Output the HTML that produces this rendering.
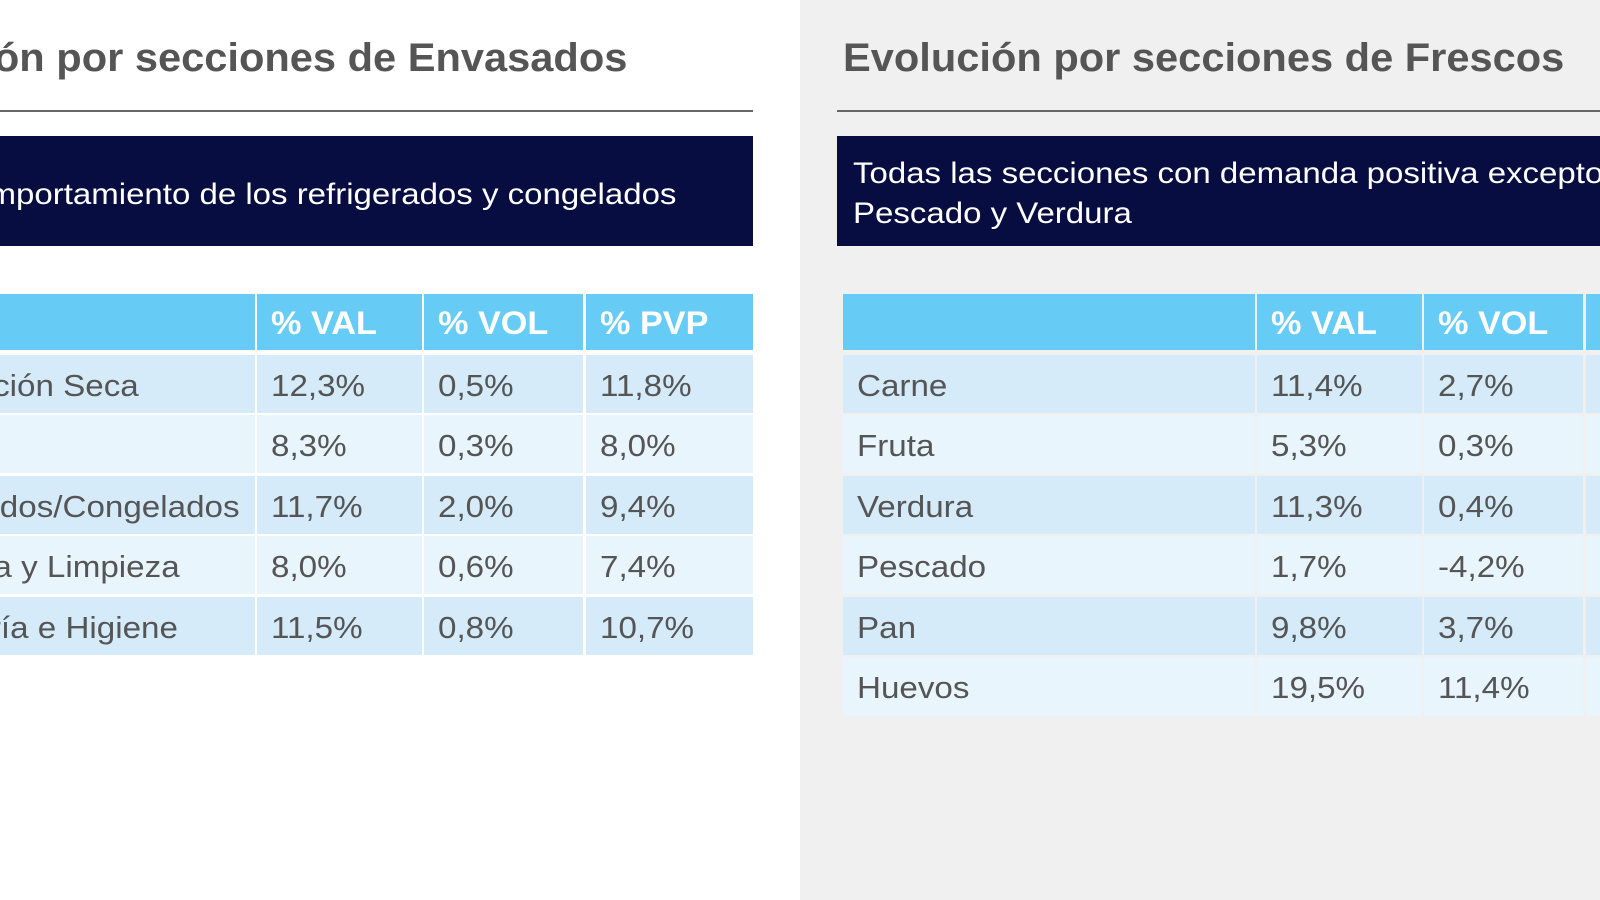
<!DOCTYPE html>
<html><head><meta charset="utf-8"><style>
*{margin:0;padding:0;box-sizing:border-box}
body{width:1600px;height:900px;overflow:hidden;position:relative;background:#fff;font-family:"Liberation Sans",Arial,sans-serif}
.a{position:absolute;white-space:nowrap;overflow:hidden}
.t{font-size:40px;font-weight:bold;color:#555;overflow:visible}
.ln{height:2px;background:#666}
.box{background:#070d40;color:#fff;font-size:30px;line-height:40px}
.h{background:#66ccf6;color:#fff;font-weight:bold;font-size:32px;line-height:58px;padding-left:14px}
.c{font-size:31px;color:#555;line-height:62px;padding-left:14px}
.r0{background:#d5ebfa}.r1{background:#e9f5fd}
span{display:inline-block;transform:scaleX(1.07);transform-origin:left}
.R span{transform-origin:right}
.box span{transform:scaleX(1.1)}
.t span{transform:scaleX(1.04)}
</style></head><body>
<div class="a" style="left:800px;top:0;width:800px;height:900px;background:#f0f0f0"></div>
<div class="a t R" style="right:973px;top:36px"><span>Evolución por secciones de Envasados</span></div>
<div class="a t" style="left:843px;top:36px"><span>Evolución por secciones de Frescos</span></div>
<div class="a ln" style="left:0;top:110px;width:753px"></div>
<div class="a ln" style="left:837px;top:110px;width:763px"></div>
<div class="a box" style="left:0;top:136px;width:753px;height:110px"></div>
<div class="a box R" style="right:924px;top:175px;overflow:visible;background:none"><span>Buen comportamiento de los refrigerados y congelados</span></div>
<div class="a box" style="left:837px;top:136px;width:763px;height:110px;padding:18px 0 0 16px"><span>Todas las secciones con demanda positiva excepto</span><br><span>Pescado y Verdura</span></div>

<!-- left table -->
<div class="a h" style="left:0;top:294px;width:255px;height:56px"></div>
<div class="a h" style="left:257px;top:294px;width:165px;height:56px"><span>% VAL</span></div>
<div class="a h" style="left:424px;top:294px;width:159px;height:56px"><span>% VOL</span></div>
<div class="a h" style="left:586px;top:294px;width:167px;height:56px"><span>% PVP</span></div>

<div class="a r0" style="left:0;top:355px;width:255px;height:58px"></div><div class="a c R" style="right:1461px;top:355px;overflow:visible"><span>Alimentación Seca</span></div>
<div class="a c r0" style="left:257px;top:355px;width:165px;height:58px"><span>12,3%</span></div><div class="a c r0" style="left:424px;top:355px;width:159px;height:58px"><span>0,5%</span></div><div class="a c r0" style="left:586px;top:355px;width:167px;height:58px"><span>11,8%</span></div>

<div class="a r1" style="left:0;top:415px;width:255px;height:58px"></div>
<div class="a c r1" style="left:257px;top:415px;width:165px;height:58px"><span>8,3%</span></div><div class="a c r1" style="left:424px;top:415px;width:159px;height:58px"><span>0,3%</span></div><div class="a c r1" style="left:586px;top:415px;width:167px;height:58px"><span>8,0%</span></div>

<div class="a r0" style="left:0;top:476px;width:255px;height:58px"></div><div class="a c R" style="right:1360px;top:476px;overflow:visible"><span>Refrigerados/Congelados</span></div>
<div class="a c r0" style="left:257px;top:476px;width:165px;height:58px"><span>11,7%</span></div><div class="a c r0" style="left:424px;top:476px;width:159px;height:58px"><span>2,0%</span></div><div class="a c r0" style="left:586px;top:476px;width:167px;height:58px"><span>9,4%</span></div>

<div class="a r1" style="left:0;top:536px;width:255px;height:58px"></div><div class="a c R" style="right:1420px;top:536px;overflow:visible"><span>Droguería y Limpieza</span></div>
<div class="a c r1" style="left:257px;top:536px;width:165px;height:58px"><span>8,0%</span></div><div class="a c r1" style="left:424px;top:536px;width:159px;height:58px"><span>0,6%</span></div><div class="a c r1" style="left:586px;top:536px;width:167px;height:58px"><span>7,4%</span></div>

<div class="a r0" style="left:0;top:597px;width:255px;height:58px"></div><div class="a c R" style="right:1422px;top:597px;overflow:visible"><span>Perfumería e Higiene</span></div>
<div class="a c r0" style="left:257px;top:597px;width:165px;height:58px"><span>11,5%</span></div><div class="a c r0" style="left:424px;top:597px;width:159px;height:58px"><span>0,8%</span></div><div class="a c r0" style="left:586px;top:597px;width:167px;height:58px"><span>10,7%</span></div>

<!-- right table -->
<div class="a h" style="left:843px;top:294px;width:412px;height:56px"></div>
<div class="a h" style="left:1257px;top:294px;width:165px;height:56px"><span>% VAL</span></div>
<div class="a h" style="left:1424px;top:294px;width:159px;height:56px"><span>% VOL</span></div>
<div class="a h" style="left:1586px;top:294px;width:14px;height:56px"></div>

<div class="a c r0" style="left:843px;top:355px;width:412px;height:58px"><span>Carne</span></div><div class="a c r0" style="left:1257px;top:355px;width:165px;height:58px"><span>11,4%</span></div><div class="a c r0" style="left:1424px;top:355px;width:159px;height:58px"><span>2,7%</span></div><div class="a r0" style="left:1586px;top:355px;width:14px;height:58px"></div>
<div class="a c r1" style="left:843px;top:415px;width:412px;height:58px"><span>Fruta</span></div><div class="a c r1" style="left:1257px;top:415px;width:165px;height:58px"><span>5,3%</span></div><div class="a c r1" style="left:1424px;top:415px;width:159px;height:58px"><span>0,3%</span></div><div class="a r1" style="left:1586px;top:415px;width:14px;height:58px"></div>
<div class="a c r0" style="left:843px;top:476px;width:412px;height:58px"><span>Verdura</span></div><div class="a c r0" style="left:1257px;top:476px;width:165px;height:58px"><span>11,3%</span></div><div class="a c r0" style="left:1424px;top:476px;width:159px;height:58px"><span>0,4%</span></div><div class="a r0" style="left:1586px;top:476px;width:14px;height:58px"></div>
<div class="a c r1" style="left:843px;top:536px;width:412px;height:58px"><span>Pescado</span></div><div class="a c r1" style="left:1257px;top:536px;width:165px;height:58px"><span>1,7%</span></div><div class="a c r1" style="left:1424px;top:536px;width:159px;height:58px"><span>-4,2%</span></div><div class="a r1" style="left:1586px;top:536px;width:14px;height:58px"></div>
<div class="a c r0" style="left:843px;top:597px;width:412px;height:58px"><span>Pan</span></div><div class="a c r0" style="left:1257px;top:597px;width:165px;height:58px"><span>9,8%</span></div><div class="a c r0" style="left:1424px;top:597px;width:159px;height:58px"><span>3,7%</span></div><div class="a r0" style="left:1586px;top:597px;width:14px;height:58px"></div>
<div class="a c r1" style="left:843px;top:657px;width:412px;height:59px"><span>Huevos</span></div><div class="a c r1" style="left:1257px;top:657px;width:165px;height:59px"><span>19,5%</span></div><div class="a c r1" style="left:1424px;top:657px;width:159px;height:59px"><span>11,4%</span></div><div class="a r1" style="left:1586px;top:657px;width:14px;height:59px"></div>
</body></html>
